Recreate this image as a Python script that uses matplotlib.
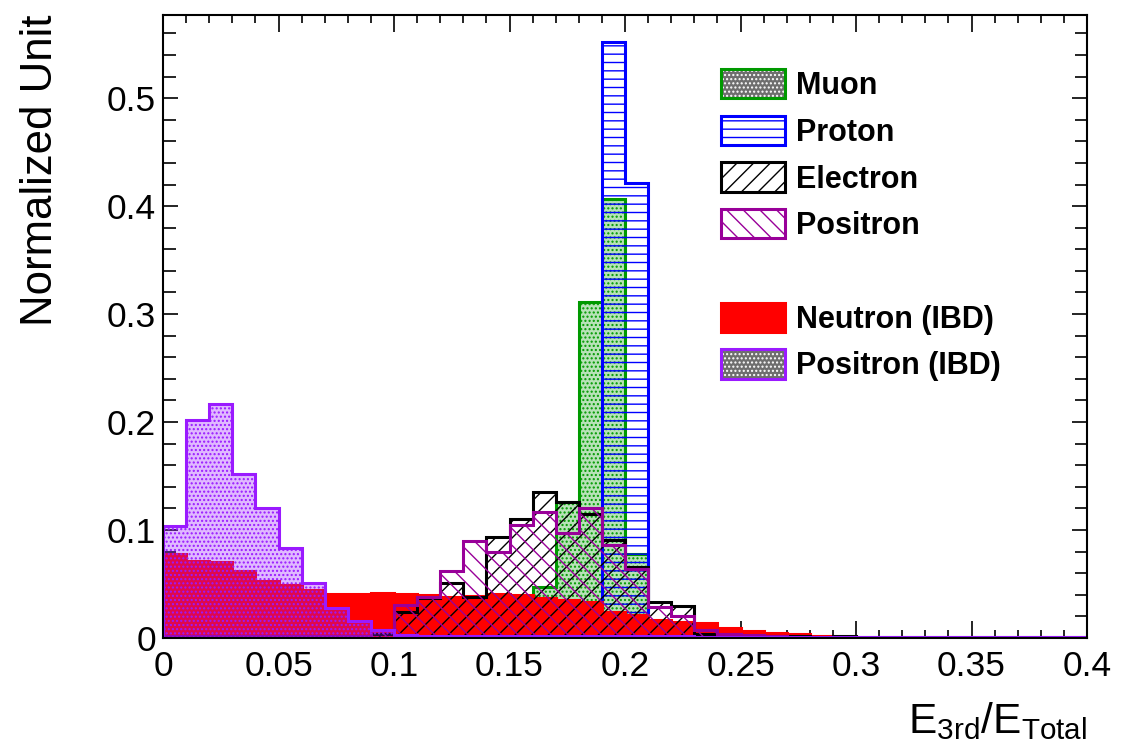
import numpy as np
import matplotlib
matplotlib.use("Agg")
import matplotlib.pyplot as plt
from matplotlib.patches import Patch
from matplotlib.legend_handler import HandlerTuple
from matplotlib.ticker import MultipleLocator

# ---------------- data (40 bins of width 0.01 from 0 to 0.4) ----------------
bin_edges = np.round(np.arange(0, 0.4001, 0.01), 3)

muon = [0.001, 0.001, 0.001, 0.001, 0.001, 0.001, 0.001, 0.001, 0.001, 0.001,
        0.001, 0.001, 0.001, 0.002, 0.005, 0.015, 0.047, 0.126, 0.311, 0.407,
        0.078, 0.005, 0.001, 0.0, 0.0, 0.0, 0.0, 0.0, 0.0, 0.0,
        0.0, 0.0, 0.0, 0.0, 0.0, 0.0, 0.0, 0.0, 0.0, 0.0]

proton = [0.0, 0.0, 0.0, 0.0, 0.0, 0.0, 0.0, 0.0, 0.0, 0.0,
          0.0, 0.0, 0.0, 0.0, 0.0, 0.0, 0.0, 0.002, 0.010, 0.552,
          0.421, 0.008, 0.001, 0.0, 0.0, 0.0, 0.0, 0.0, 0.0, 0.0,
          0.0, 0.0, 0.0, 0.0, 0.0, 0.0, 0.0, 0.0, 0.0, 0.0]

neutron_ibd = [0.078, 0.071, 0.070, 0.062, 0.053, 0.049, 0.044, 0.041, 0.041, 0.042,
               0.041, 0.040, 0.038, 0.039, 0.041, 0.040, 0.037, 0.035, 0.033, 0.024,
               0.021, 0.017, 0.015, 0.014, 0.009, 0.0065, 0.0045, 0.004, 0.0015, 0.0008,
               0.0004, 0.0003, 0.0002, 0.0001, 0.0001, 0.0, 0.0, 0.0, 0.0, 0.0]

electron = [0.002, 0.002, 0.002, 0.002, 0.002, 0.002, 0.002, 0.002, 0.002, 0.004,
            0.024, 0.037, 0.051, 0.038, 0.094, 0.110, 0.135, 0.126, 0.115, 0.091,
            0.066, 0.033, 0.030, 0.004, 0.003, 0.002, 0.002, 0.002, 0.001, 0.002,
            0.0, 0.0, 0.0, 0.0, 0.0, 0.0, 0.0, 0.0, 0.0, 0.0]

positron = [0.002, 0.002, 0.002, 0.002, 0.002, 0.002, 0.002, 0.002, 0.002, 0.007,
            0.031, 0.038, 0.062, 0.090, 0.080, 0.105, 0.117, 0.097, 0.120, 0.086,
            0.064, 0.029, 0.020, 0.0075, 0.004, 0.003, 0.002, 0.001, 0.001, 0.001,
            0.001, 0.001, 0.001, 0.001, 0.001, 0.001, 0.001, 0.001, 0.001, 0.001]

positron_ibd = [0.104, 0.202, 0.217, 0.152, 0.120, 0.083, 0.051, 0.028, 0.0157, 0.007,
                0.003, 0.002, 0.002, 0.002, 0.002, 0.002, 0.002, 0.002, 0.002, 0.002,
                0.002, 0.002, 0.002, 0.001, 0.001, 0.001, 0.001, 0.001, 0.001, 0.001,
                0.0005, 0.0005, 0.0005, 0.0005, 0.0005, 0.0005, 0.0005, 0.0005, 0.0005, 0.0005]

x_ticks = [0, 0.05, 0.1, 0.15, 0.2, 0.25, 0.3, 0.35, 0.4]
x_tick_labels = ["0", "0.05", "0.1", "0.15", "0.2", "0.25", "0.3", "0.35", "0.4"]
y_ticks = [0, 0.1, 0.2, 0.3, 0.4, 0.5]
y_tick_labels = ["0", "0.1", "0.2", "0.3", "0.4", "0.5"]

legend_labels = ["Muon", "Proton", "Electron", "Positron", "", "Neutron (IBD)", "Positron (IBD)"]

# ---------------- style ----------------
plt.rcParams["font.family"] = ["Liberation Sans", "DejaVu Sans"]
plt.rcParams["mathtext.fontset"] = "custom"
plt.rcParams["mathtext.rm"] = "Liberation Sans"
plt.rcParams["hatch.linewidth"] = 1.0

GREEN = "#009900"
BLUE = "#0000ff"
BLACK = "#000000"
MAGENTA = "#990099"
RED = "#ff0000"
VIOLET = "#9a1aff"

fig = plt.figure(figsize=(11.35, 7.5), dpi=100)
ax = fig.add_axes([163 / 1135, 1 - 638 / 750, 924 / 1135, 623 / 750])

lw = 2.2
# draw order: muon, proton, neutron, electron, positron, positron (IBD)
ax.stairs(muon, bin_edges, fill=True, facecolor=(0.0, 0.6, 0.0, 0.28),
          edgecolor=GREEN, hatch="....", linewidth=lw, zorder=2)
ax.stairs(proton, bin_edges, fill=True, facecolor="none",
          edgecolor=BLUE, hatch="--", linewidth=lw, zorder=3)
ax.stairs(neutron_ibd, bin_edges, fill=True, facecolor=RED,
          edgecolor=RED, linewidth=lw, zorder=4)
ax.stairs(electron, bin_edges, fill=True, facecolor="none",
          edgecolor=BLACK, hatch="//", linewidth=lw, zorder=5)
ax.stairs(positron, bin_edges, fill=True, facecolor="none",
          edgecolor=MAGENTA, hatch="\\\\", linewidth=lw, zorder=6)
ax.stairs(positron_ibd, bin_edges, fill=True, facecolor=(0.6, 0.1, 1.0, 0.30),
          edgecolor=VIOLET, hatch="....", linewidth=lw, zorder=7)

ax.set_xlim(0, 0.4)
ax.set_ylim(0, 0.577)

ax.set_xticks(x_ticks, x_tick_labels)
ax.set_yticks(y_ticks, y_tick_labels)
ax.xaxis.set_minor_locator(MultipleLocator(0.01))
ax.yaxis.set_minor_locator(MultipleLocator(0.02))
ax.tick_params(which="both", direction="in", top=True, right=True, width=1.2,
               labelsize=25.5)
ax.tick_params(axis="x", which="major", length=12, pad=9)
ax.tick_params(axis="x", which="minor", length=5.5)
ax.tick_params(axis="y", which="major", length=11, pad=5)
ax.tick_params(axis="y", which="minor", length=9)
for s in ax.spines.values():
    s.set_linewidth(1.5)
    s.set_zorder(10)

ax.set_ylabel("Normalized Unit", fontsize=31.5, loc="top")
ax.yaxis.set_label_coords(-0.110, 1.0)
ax.set_xlabel(r"$\mathregular{E_{3rd}/E_{Total}}$", fontsize=30.5, loc="right")
ax.xaxis.set_label_coords(1.0, -0.10)

# ---------------- legend ----------------
def checker(border):
    return (Patch(facecolor="#6e6e6e", edgecolor="white", hatch="....", linewidth=0),
            Patch(facecolor="none", edgecolor=border, linewidth=2.2))

handles = [
    checker(GREEN),
    Patch(facecolor="white", edgecolor=BLUE, hatch="--", linewidth=2.2),
    Patch(facecolor="white", edgecolor=BLACK, hatch="//", linewidth=2.2),
    Patch(facecolor="white", edgecolor=MAGENTA, hatch="\\\\", linewidth=2.2),
    Patch(facecolor="none", edgecolor="none", linewidth=0),
    Patch(facecolor=RED, edgecolor=RED, linewidth=2.2),
    checker(VIOLET),
]
leg = ax.legend(handles, legend_labels, handler_map={tuple: HandlerTuple(ndivide=1)},
                loc="upper left", bbox_to_anchor=(721 / 1135, 1 - 69 / 750),
                bbox_transform=fig.transFigure, frameon=False,
                prop={"weight": "bold", "size": 22},
                handlelength=2.1, handleheight=1.1, handletextpad=0.35,
                labelspacing=0.48, borderpad=0, borderaxespad=0)
leg.set_zorder(20)

fig.savefig("out.png", dpi=100)
